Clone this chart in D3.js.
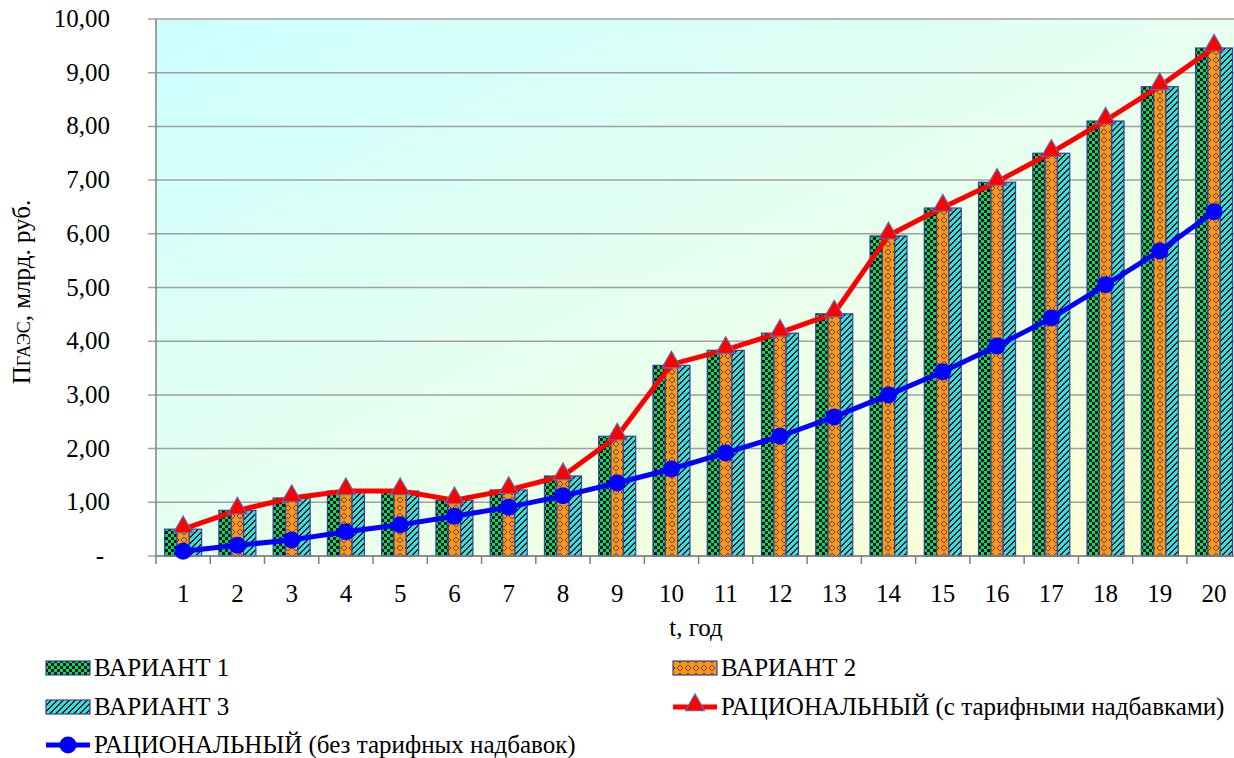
<!DOCTYPE html>
<html>
<head>
<meta charset="utf-8">
<script src="https://cdn.jsdelivr.net/npm/d3@7"></script>
<style>
  html, body { margin: 0; padding: 0; background: #fff; }
  svg { display: block; font-family: "Liberation Serif", "Times New Roman", serif; }
</style>
</head>
<body>
<svg id="chart" width="1234" height="758"></svg>
<script>
// Годы расчётного периода
const years = ["1","2","3","4","5","6","7","8","9","10","11","12","13","14","15","16","17","18","19","20"];

// Значения по вариантам, млрд. руб.
const variant1 = [0.50, 0.85, 1.08, 1.21, 1.21, 1.04, 1.23, 1.49, 2.23, 3.55, 3.83, 4.15, 4.51, 5.96, 6.48, 6.96, 7.50, 8.10, 8.74, 9.46];
const variant2 = [0.50, 0.85, 1.08, 1.21, 1.21, 1.04, 1.23, 1.49, 2.23, 3.55, 3.83, 4.15, 4.51, 5.96, 6.48, 6.96, 7.50, 8.10, 8.74, 9.46];
const variant3 = [0.50, 0.85, 1.08, 1.21, 1.21, 1.04, 1.23, 1.49, 2.23, 3.55, 3.83, 4.15, 4.51, 5.96, 6.48, 6.96, 7.50, 8.10, 8.74, 9.46];

// Рациональный вариант с тарифными надбавками и без них
const rationalWith = [0.50, 0.85, 1.08, 1.21, 1.21, 1.04, 1.23, 1.49, 2.23, 3.57, 3.84, 4.16, 4.52, 5.97, 6.49, 6.97, 7.51, 8.11, 8.75, 9.47];
const rationalWithout = [0.09, 0.20, 0.30, 0.45, 0.58, 0.74, 0.91, 1.12, 1.36, 1.62, 1.92, 2.23, 2.59, 3.00, 3.43, 3.91, 4.43, 5.05, 5.68, 6.41];

const yTicks = [0, 1, 2, 3, 4, 5, 6, 7, 8, 9, 10];

const seriesNames = ["ВАРИАНТ 1", "ВАРИАНТ 2", "ВАРИАНТ 3",
  "РАЦИОНАЛЬНЫЙ (с тарифными надбавками)", "РАЦИОНАЛЬНЫЙ (без тарифных надбавок)"];

const svg = d3.select("#chart");
const defs = svg.append("defs");

// Фон области построения
const grad = defs.append("linearGradient").attr("id", "bg")
  .attr("x1", 0).attr("y1", 0).attr("x2", 1).attr("y2", 1);
grad.append("stop").attr("offset", "0%").attr("stop-color", "#ccffff");
grad.append("stop").attr("offset", "50%").attr("stop-color", "#e6fff0");
grad.append("stop").attr("offset", "100%").attr("stop-color", "#ffffcc");

// Штриховки столбцов
const pCheck = defs.append("pattern").attr("id", "pat1").attr("patternUnits", "userSpaceOnUse")
  .attr("width", 6).attr("height", 6);
pCheck.append("rect").attr("width", 6).attr("height", 6).attr("fill", "#00ee00");
pCheck.append("rect").attr("width", 3).attr("height", 3).attr("fill", "#000080");
pCheck.append("rect").attr("x", 3).attr("y", 3).attr("width", 3).attr("height", 3).attr("fill", "#000080");

const pWeave = defs.append("pattern").attr("id", "pat2").attr("patternUnits", "userSpaceOnUse")
  .attr("width", 8).attr("height", 8);
pWeave.append("rect").attr("width", 8).attr("height", 8).attr("fill", "#ff9900");
pWeave.append("path").attr("d", "M0,1 L3,4 L0,7 M8,1 L5,4 L8,7")
  .attr("stroke", "#4b3b8f").attr("stroke-width", 1.4).attr("fill", "none")
  .attr("shape-rendering", "crispEdges");

// Диагональная штриховка, собранная по пикселям
const pStripe = defs.append("pattern").attr("id", "pat3").attr("patternUnits", "userSpaceOnUse")
  .attr("width", 6).attr("height", 6);
pStripe.append("rect").attr("width", 6).attr("height", 6).attr("fill", "#11eeee");
const stripeCells = d3.cross(d3.range(6), d3.range(6)).filter(([i, j]) => (i + j) % 6 < 2);
pStripe.selectAll("rect.px").data(stripeCells).join("rect").attr("class", "px")
  .attr("x", d => d[0]).attr("y", d => d[1]).attr("width", 1).attr("height", 1)
  .attr("fill", "#800000").attr("shape-rendering", "crispEdges");

const plotLeft = 156, plotTop = 19, plotBottom = 556;
const band = 54.26;
const plotRight = plotLeft + band * years.length;

const x = d3.scaleBand().domain(years).range([plotLeft, plotRight]).paddingInner(0).paddingOuter(0);
const y = d3.scaleLinear().domain([0, 10]).range([plotBottom, plotTop]);

// Область построения
svg.append("rect").attr("x", plotLeft).attr("y", plotTop)
  .attr("width", plotRight - plotLeft).attr("height", plotBottom - plotTop).attr("fill", "url(#bg)");

// Сетка
svg.append("g").selectAll("line").data(yTicks).join("line")
  .attr("x1", plotLeft - 8).attr("x2", plotRight)
  .attr("y1", d => y(d)).attr("y2", d => y(d))
  .attr("stroke", "#a0a0a0").attr("stroke-width", 1.5);

// Столбцы
const groupW = 37;
const xs = d3.scaleBand().domain([0, 1, 2]).range([0, groupW]).padding(0);
const variants = [variant1, variant2, variant3];
const barG = svg.append("g");
variants.forEach((vals, k) => {
  barG.append("g").selectAll("rect").data(vals).join("rect")
    .attr("x", (d, i) => x(years[i]) + (x.bandwidth() - groupW) / 2 + xs(k))
    .attr("y", d => y(d))
    .attr("width", xs.bandwidth())
    .attr("height", d => y(0) - y(d))
    .attr("fill", `url(#pat${k + 1})`)
    .attr("stroke", "#404090").attr("stroke-width", 1.2);
});

// Оси
svg.append("line").attr("x1", plotLeft).attr("x2", plotLeft).attr("y1", plotTop).attr("y2", plotBottom)
  .attr("stroke", "#808080").attr("stroke-width", 1.5);
svg.append("line").attr("x1", plotLeft).attr("x2", plotRight).attr("y1", plotBottom).attr("y2", plotBottom)
  .attr("stroke", "#808080").attr("stroke-width", 1.5);

// Деления оси X на границах категорий
const xBounds = years.map(d => x(d)).concat([plotRight]);
svg.append("g").selectAll("line").data(xBounds).join("line")
  .attr("x1", d => d).attr("x2", d => d).attr("y1", plotBottom).attr("y2", plotBottom + 8)
  .attr("stroke", "#808080").attr("stroke-width", 1.5);

// Подписи оси Y
const fmt = v => v === 0 ? "-" : d3.format(".2f")(v).replace(".", ",");
svg.append("g").selectAll("text").data(yTicks).join("text")
  .attr("x", d => d === 0 ? 104 : 110).attr("y", d => y(d) + 8)
  .attr("text-anchor", "end").attr("font-size", 25).attr("fill", "#000")
  .text(fmt);

// Подписи оси X
svg.append("g").selectAll("text").data(years).join("text")
  .attr("x", d => x(d) + x.bandwidth() / 2).attr("y", 602)
  .attr("text-anchor", "middle").attr("font-size", 25).attr("fill", "#000")
  .text(d => d);

svg.append("text").attr("x", 696).attr("y", 636).attr("text-anchor", "middle")
  .attr("font-size", 25).text("t, год");

const yl = svg.append("text").attr("transform", "translate(30,292) rotate(-90)")
  .attr("text-anchor", "middle").attr("font-size", 25);
yl.append("tspan").text("П");
yl.append("tspan").attr("font-size", 18).text("ГАЭС");
yl.append("tspan").text(", млрд. руб.");

// Линии
const cx = i => x(years[i]) + x.bandwidth() / 2;
const line = d3.line().x((d, i) => cx(i)).y(d => y(d));

svg.append("path").datum(rationalWith).attr("d", line)
  .attr("fill", "none").attr("stroke", "#ff0000").attr("stroke-width", 5).attr("stroke-linejoin", "round");
svg.append("path").datum(rationalWithout).attr("d", line)
  .attr("fill", "none").attr("stroke", "#0000ff").attr("stroke-width", 5).attr("stroke-linejoin", "round");

const tri = d3.symbol().type(d3.symbolTriangle).size(160);
svg.append("g").selectAll("path").data(rationalWith).join("path")
  .attr("transform", (d, i) => `translate(${cx(i)},${y(d) - 2})`)
  .attr("d", tri).attr("fill", "#ff0000").attr("stroke", "#6868a8").attr("stroke-width", 1.2);

svg.append("g").selectAll("circle").data(rationalWithout).join("circle")
  .attr("cx", (d, i) => cx(i)).attr("cy", d => y(d)).attr("r", 8.5)
  .attr("fill", "#0000ff");

// Легенда
const legend = svg.append("g").attr("font-size", 25);
const swatch = (xp, yc, k, label) => {
  legend.append("rect").attr("x", xp).attr("y", yc - 7).attr("width", 44).attr("height", 14)
    .attr("fill", `url(#pat${k})`).attr("stroke", "#404090").attr("stroke-width", 1.2);
  legend.append("text").attr("x", xp + 48).attr("y", yc + 8).text(label);
};
swatch(46, 668, 1, seriesNames[0]);
swatch(673, 668, 2, seriesNames[1]);
swatch(46, 707, 3, seriesNames[2]);

legend.append("line").attr("x1", 673).attr("x2", 717).attr("y1", 707).attr("y2", 707)
  .attr("stroke", "#ff0000").attr("stroke-width", 5);
legend.append("path").attr("transform", "translate(695,705)").attr("d", tri)
  .attr("fill", "#ff0000").attr("stroke", "#6868a8").attr("stroke-width", 1.2);
legend.append("text").attr("x", 721).attr("y", 715).text(seriesNames[3]);

legend.append("line").attr("x1", 46).attr("x2", 90).attr("y1", 745).attr("y2", 745)
  .attr("stroke", "#0000ff").attr("stroke-width", 5);
legend.append("circle").attr("cx", 68).attr("cy", 745).attr("r", 8.5).attr("fill", "#0000ff");
legend.append("text").attr("x", 94).attr("y", 753).text(seriesNames[4]);
</script>
</body>
</html>
